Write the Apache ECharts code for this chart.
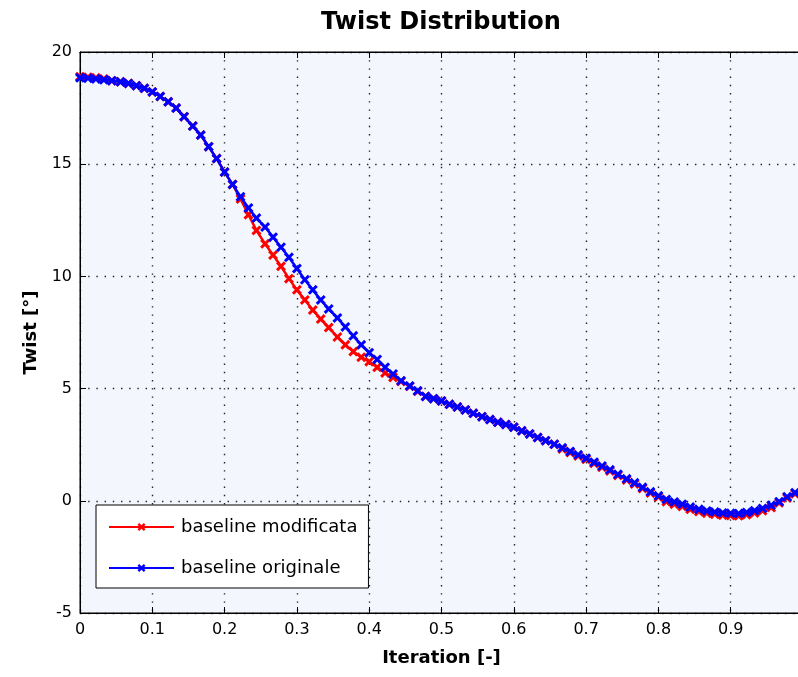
<!DOCTYPE html>
<html>
<head>
<meta charset="utf-8">
<script src="https://cdn.jsdelivr.net/npm/echarts@6/dist/echarts.min.js"></script>
<style>
  html, body { margin: 0; padding: 0; background: #ffffff; }
  #chart { width: 798px; height: 677px; }
</style>
</head>
<body>
<div id="chart"></div>
<script>
// Spanwise stations (iteration fraction)
const stations = [
  0.000,0.011,0.022,0.033,0.044,0.056,0.067,0.078,0.089,0.100,
  0.111,0.122,0.133,0.144,0.156,0.167,0.178,0.189,0.200,
  0.211,0.222,0.233,0.244,0.256,0.267,0.278,0.289,0.300,
  0.311,0.322,0.333,0.344,0.356,0.367,0.378,0.389,0.400,
  0.411,0.422,0.433,0.444,0.456,0.467,0.478,0.489,0.500,
  0.511,0.522,0.533,0.544,0.556,0.567,0.578,0.589,0.600,
  0.611,0.622,0.633,0.644,0.656,0.667,0.678,0.689,0.700,
  0.711,0.722,0.733,0.744,0.756,0.767,0.778,0.789,0.800,
  0.811,0.822,0.833,0.844,0.856,0.867,0.878,0.889,0.900,
  0.911,0.922,0.933,0.944,0.956,0.967,0.978,0.989,1.000
];

// Twist [deg], modified baseline
const twistModificata = [
  18.90,18.88,18.85,18.80,18.72,18.67,18.60,18.50,18.38,18.22,
  18.02,17.78,17.50,17.12,16.70,16.30,15.78,15.25,14.65,
  14.10,13.45,12.75,12.05,11.45,10.95,10.45,9.90,9.40,
  8.95,8.50,8.10,7.72,7.30,6.95,6.65,6.40,6.20,
  5.95,5.70,5.50,5.32,5.10,4.88,4.65,4.55,4.45,
  4.30,4.18,4.05,3.90,3.75,3.62,3.50,3.40,3.28,
  3.12,2.98,2.82,2.68,2.52,2.31,2.15,2.00,1.85,
  1.67,1.50,1.33,1.13,0.93,0.75,0.55,0.35,0.17,
  -0.04,-0.15,-0.25,-0.38,-0.48,-0.55,-0.60,-0.64,-0.66,
  -0.67,-0.62,-0.54,-0.44,-0.30,-0.09,0.13,0.31,0.45
];

// Twist [deg], original baseline
const twistOriginale = [
  18.85,18.83,18.80,18.76,18.72,18.67,18.60,18.50,18.38,18.22,
  18.02,17.78,17.50,17.12,16.70,16.30,15.78,15.25,14.65,
  14.10,13.55,13.05,12.60,12.20,11.75,11.30,10.85,10.35,
  9.85,9.40,8.95,8.55,8.15,7.75,7.35,6.95,6.60,
  6.30,5.95,5.65,5.35,5.12,4.90,4.65,4.55,4.45,
  4.30,4.18,4.05,3.90,3.75,3.62,3.50,3.40,3.28,
  3.12,2.98,2.82,2.68,2.52,2.36,2.20,2.05,1.90,
  1.72,1.55,1.38,1.18,0.98,0.80,0.60,0.40,0.22,
  0.06,-0.05,-0.15,-0.28,-0.38,-0.45,-0.50,-0.54,-0.56,
  -0.57,-0.52,-0.44,-0.34,-0.20,-0.04,0.18,0.36,0.50
];

const seriesNames = ['baseline modificata', 'baseline originale'];
const xTickLabels = ['0','0.1','0.2','0.3','0.4','0.5','0.6','0.7','0.8','0.9','1'];
const yTickLabels = ['-5','0','5','10','15','20'];

const pairs = (ys) => stations.map((x, i) => [x, ys[i]]);

// "x" marker drawn as a filled cross outline
const crossSymbol = 'path://M0,2.1L2.1,0L5,2.9L7.9,0L10,2.1L7.1,5L10,7.9L7.9,10L5,7.1L2.1,10L0,7.9L2.9,5Z';

const tickFont = { fontFamily: 'DejaVu Sans', fontSize: 16, color: '#000' };
const dotted = { color: '#222', width: 1.4, type: [1.4, 6.8] };

const chart = echarts.init(document.getElementById('chart'), null, { renderer: 'canvas' });

chart.setOption({
  animation: false,
  backgroundColor: '#ffffff',
  title: {
    text: 'Twist Distribution',
    left: 316,
    top: 6,
    textStyle: { fontFamily: 'DejaVu Sans', fontWeight: 'bold', fontSize: 24, color: '#000' }
  },
  grid: {
    left: 80, top: 52, right: -5, bottom: 64,
    outerBoundsMode: 'none',
    containLabel: false,
    show: true,
    backgroundColor: '#f3f7fd',
    borderColor: '#000',
    borderWidth: 1
  },
  legend: {
    data: seriesNames,
    orient: 'vertical',
    left: 96,
    top: 505,
    padding: [13, 11, 11, 12],
    itemGap: 23,
    itemWidth: 65,
    itemHeight: 10,
    backgroundColor: '#ffffff',
    borderColor: '#000',
    borderWidth: 1,
    borderRadius: 0,
    textStyle: { fontFamily: 'DejaVu Sans', fontSize: 18, color: '#000', padding: [0, 0, 0, 2] }
  },
  xAxis: [
    {
      type: 'value',
      min: 0, max: 1, interval: 0.1,
      position: 'bottom',
      name: 'Iteration [-]',
      nameLocation: 'middle',
      nameGap: 36,
      nameTextStyle: { fontFamily: 'DejaVu Sans', fontWeight: 'bold', fontSize: 18, color: '#000' },
      axisLine: { show: true, onZero: false, lineStyle: { color: '#000', width: 1 } },
      axisTick: { show: true, inside: true, length: 6, lineStyle: { color: '#000' } },
      axisLabel: Object.assign({
        margin: 9,
        formatter: (v) => xTickLabels[Math.round(v * 10)]
      }, tickFont),
      splitLine: { show: true, lineStyle: dotted }
    },
    {
      type: 'value',
      min: 0, max: 1, interval: 0.1,
      position: 'top',
      axisLine: { show: true, onZero: false, lineStyle: { color: '#000', width: 1 } },
      axisTick: { show: true, inside: true, length: 6, lineStyle: { color: '#000' } },
      axisLabel: { show: false },
      splitLine: { show: false }
    }
  ],
  yAxis: {
    type: 'value',
    min: -5, max: 20, interval: 5,
    name: 'Twist [°]',
    nameLocation: 'middle',
    nameGap: 40,
    nameTextStyle: { fontFamily: 'DejaVu Sans', fontWeight: 'bold', fontSize: 18, color: '#000' },
    axisLine: { show: true, onZero: false, lineStyle: { color: '#000', width: 1 } },
    axisTick: { show: true, inside: true, length: 6, lineStyle: { color: '#000' } },
    axisLabel: Object.assign({
      margin: 8,
      formatter: (v) => yTickLabels[Math.round((v + 5) / 5)]
    }, tickFont),
    splitLine: { show: true, lineStyle: dotted }
  },
  series: [
    {
      name: seriesNames[0],
      type: 'line',
      data: pairs(twistModificata),
      symbol: crossSymbol,
      symbolSize: 10,
      showAllSymbol: true,
      color: '#ff0000',
      lineStyle: { color: '#ff0000', width: 2.5 },
      itemStyle: { color: '#ff0000' },
      z: 2
    },
    {
      name: seriesNames[1],
      type: 'line',
      data: pairs(twistOriginale),
      symbol: crossSymbol,
      symbolSize: 10,
      showAllSymbol: true,
      color: '#0000ff',
      lineStyle: { color: '#0000ff', width: 2.5 },
      itemStyle: { color: '#0000ff' },
      z: 3
    }
  ]
});
</script>
</body>
</html>
